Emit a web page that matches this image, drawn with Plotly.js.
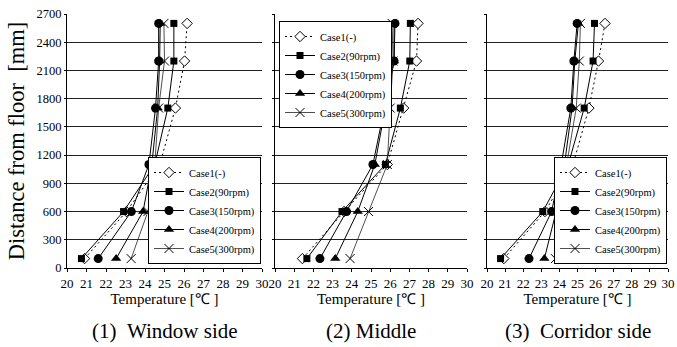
<!DOCTYPE html>
<html>
<head>
<meta charset="utf-8">
<script src="https://cdn.plot.ly/plotly-3.0.1.min.js"></script>
<style>html,body{margin:0;padding:0;background:#fff;}#chart{width:677px;height:347px;}</style>
</head>
<body>
<div id="chart"></div>
<script>
// Heights above floor [mm]
const heights = [100, 600, 1100, 1700, 2200, 2600];

const caseNames = ["Case1(-)", "Case2(90rpm)", "Case3(150rpm)", "Case4(200rpm)", "Case5(300rpm)"];

// (1) Window side - temperature [deg C]
const windowCase1 = [20.90, 23.05, 24.76, 25.56, 26.03, 26.16];
const windowCase2 = [20.74, 22.90, 24.50, 25.17, 25.48, 25.48];
const windowCase3 = [21.60, 23.30, 24.20, 24.54, 24.70, 24.70];
const windowCase4 = [22.52, 23.90, 24.35, 24.65, 24.75, 24.78];
const windowCase5 = [23.29, 24.15, 24.50, 24.70, 25.00, 24.97];

// (2) Middle
const middleCase1 = [21.43, 23.60, 25.85, 26.70, 27.37, 27.45];
const middleCase2 = [21.66, 23.49, 25.75, 26.53, 27.02, 27.05];
const middleCase3 = [22.34, 23.73, 25.10, 25.70, 26.20, 26.25];
const middleCase4 = [23.14, 24.31, 25.20, 25.75, 26.20, 26.20];
const middleCase5 = [23.91, 24.87, 25.85, 26.00, 26.15, 26.10];

// (3) Corridor side
const corridorCase1 = [20.93, 23.20, 24.75, 25.63, 26.16, 26.52];
const corridorCase2 = [20.75, 23.08, 24.49, 25.37, 25.86, 25.94];
const corridorCase3 = [22.32, 23.57, 24.10, 24.63, 24.80, 24.98];
const corridorCase4 = [23.17, 23.82, 24.28, 24.70, 24.85, 25.05];
const corridorCase5 = [23.78, 24.10, 24.40, 24.93, 25.10, 25.16];

const panelTitles = ["(1)\u00a0\u00a0Window side", "(2) Middle", "(3)\u00a0\u00a0Corridor side"];
const xTitle = "Temperature [\u2103 ]";
const yTitle = "Distance from floor\u00a0\u00a0[mm]";

const panels = [
  [windowCase1, windowCase2, windowCase3, windowCase4, windowCase5],
  [middleCase1, middleCase2, middleCase3, middleCase4, middleCase5],
  [corridorCase1, corridorCase2, corridorCase3, corridorCase4, corridorCase5]
];

const serif = '"Liberation Serif", serif';
const styles = [
  {line: {color: "#000", width: 1, dash: "2px,3px"}, marker: {symbol: "diamond", size: 8, color: "#fff", line: {width: 1, color: "#000"}}},
  {line: {color: "#000", width: 1}, marker: {symbol: "square", size: 7, color: "#000", line: {width: 0}}},
  {line: {color: "#000", width: 1}, marker: {symbol: "circle", size: 9, color: "#000", line: {width: 0}}},
  {line: {color: "#000", width: 1}, marker: {symbol: "triangle-up", size: 9, color: "#000", line: {width: 0}}},
  {line: {color: "#222", width: 0.8}, marker: {symbol: "x-thin-open", size: 9, color: "#000", line: {width: 1, color: "#000"}}}
];

const traces = [];
panels.forEach((series, p) => {
  const sfx = p === 0 ? "" : String(p + 1);
  series.forEach((xs, c) => {
    traces.push({
      type: "scatter",
      mode: "lines+markers",
      x: xs,
      y: heights,
      name: caseNames[c],
      xaxis: "x" + sfx,
      yaxis: "y" + sfx,
      legend: "legend" + sfx,
      line: styles[c].line,
      marker: styles[c].marker,
      cliponaxis: false
    });
  });
});

const W = 677, H = 347;
const xDomains = [[67 / W, 262 / W], [275 / W, 467 / W], [487 / W, 668 / W]];
const yDomain = [1 - 268 / H, 1 - 14 / H];

function xAxis(i) {
  return {
    domain: xDomains[i], range: [20, 30], dtick: 1, tick0: 20,
    anchor: i === 0 ? "y" : "y" + (i + 1),
    showgrid: false, zeroline: false,
    showline: true, linecolor: "#000", linewidth: 1,
    ticks: "outside", ticklen: 3, tickcolor: "#000",
    ticklabeloverflow: "allow",
    tickfont: {family: serif, size: 13, color: "#000"},
    title: {text: xTitle, font: {family: serif, size: 15, color: "#000"}, standoff: 3},
    fixedrange: true
  };
}
function yAxis(i) {
  return {
    domain: yDomain, range: [0, 2700], dtick: 300, tick0: 0,
    anchor: i === 0 ? "x" : "x" + (i + 1),
    showgrid: true, gridcolor: "#222", gridwidth: 1, zeroline: false,
    showline: true, linecolor: "#000", linewidth: 1,
    ticks: "outside", ticklen: 2, tickcolor: "#000",
    showticklabels: i === 0,
    tickfont: {family: serif, size: 12.5, color: "#000"},
    title: i === 0 ? {text: yTitle, font: {family: serif, size: 22.5, color: "#000"}, standoff: 5} : {text: ""},
    fixedrange: true
  };
}
function legendCfg(x, y, xanchor, yanchor) {
  return {
    x: x, y: y, xanchor: xanchor, yanchor: yanchor, xref: "paper", yref: "paper",
    bgcolor: "#fff", bordercolor: "#000", borderwidth: 1,
    font: {family: serif, size: 10.5, color: "#000"},
    itemwidth: 30, tracegroupgap: 0, traceorder: "normal"
  };
}

const annotations = panelTitles.map((t, i) => ({
  text: t, showarrow: false,
  xref: i === 0 ? "x domain" : "x" + (i + 1) + " domain", x: 0.5,
  yref: "paper", y: 1 - 331 / H, yanchor: "middle", xanchor: "center",
  font: {family: serif, size: 21, color: "#000"}
}));

const layout = {
  width: W, height: H,
  margin: {l: 0, r: 0, t: 0, b: 0},
  paper_bgcolor: "#fff", plot_bgcolor: "#fff",
  showlegend: true,
  xaxis: xAxis(0), xaxis2: xAxis(1), xaxis3: xAxis(2),
  yaxis: yAxis(0), yaxis2: yAxis(1), yaxis3: yAxis(2),
  legend: legendCfg(261 / W, 1 - 264 / H, "right", "bottom"),
  legend2: legendCfg(279 / W, 1 - 21 / H, "left", "top"),
  legend3: legendCfg(667 / W, 1 - 264 / H, "right", "bottom"),
  annotations: annotations
};

Plotly.newPlot("chart", traces, layout, {staticPlot: true, displayModeBar: false});
</script>
</body>
</html>
